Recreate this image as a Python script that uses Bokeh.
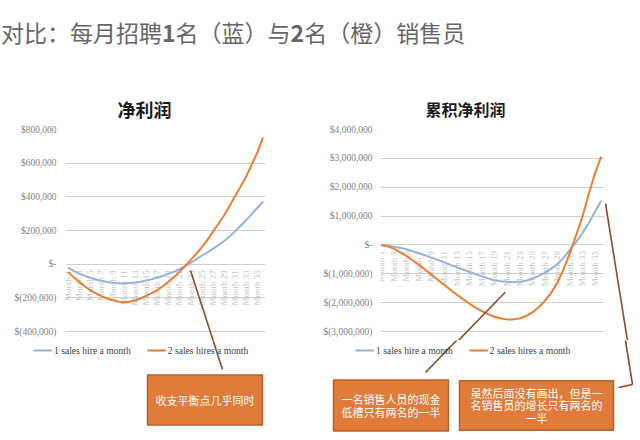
import math
from bokeh.plotting import figure
from bokeh.models import (Legend, LegendItem, FixedTicker, Label, Arrow, Div, Range1d)
from bokeh.layouts import column, row
from bokeh.core.properties import value
from bokeh.embed import file_html
from bokeh.resources import INLINE

# ---------------- data ----------------
months = list(range(1, 37))
month_labels = ["Month %d" % m for m in months]
label_months = months[::2]                       # Month 1, 3, ..., 35
label_texts = month_labels[::2]

series_names = ["1 sales hire a month", "2 sales hires a month"]

# 净利润 (net profit per month), USD
net_1 = [-22000, -40000, -56000, -69000, -81000, -91000, -99000, -106000, -111000, -113000,
         -114000, -112000, -109000, -104000, -97000, -90000, -81000, -70000, -58000, -45000,
         -30000, -12000, 8000, 29000, 50000, 70000, 91000, 113000, 137000, 165000,
         196000, 228000, 262000, 298000, 335000, 372000]
net_2 = [-46000, -77000, -105000, -131000, -155000, -174000, -190000, -204000, -214000, -222000,
         -226000, -223000, -216000, -204000, -188000, -172000, -155000, -132000, -105000, -77000,
         -46000, -12000, 24000, 61000, 99000, 143000, 192000, 240000, 289000, 345000,
         405000, 462000, 522000, 592000, 665000, 752000]

# 累积净利润 (cumulative net profit), USD
cum_1 = [0, -20000, -60000, -100000, -150000, -220000, -290000, -360000, -440000, -520000,
         -600000, -690000, -770000, -850000, -930000, -1010000, -1090000, -1160000, -1220000, -1260000,
         -1280000, -1290000, -1280000, -1240000, -1170000, -1080000, -970000, -830000, -670000, -450000,
         -170000, 100000, 400000, 750000, 1150000, 1530000]
cum_2 = [0, -50000, -130000, -250000, -380000, -530000, -690000, -860000, -1030000, -1210000,
         -1380000, -1550000, -1720000, -1880000, -2030000, -2170000, -2290000, -2400000, -2490000, -2550000,
         -2580000, -2580000, -2550000, -2470000, -2350000, -2170000, -1950000, -1670000, -1320000, -850000,
         -290000, 330000, 970000, 1750000, 2470000, 3060000]

net_ticks = [-400000, -200000, 0, 200000, 400000, 600000, 800000]
net_tick_labels = ["$(400,000)", "$(200,000)", "$-", "$200,000", "$400,000", "$600,000", "$800,000"]
cum_ticks = [-3000000, -2000000, -1000000, 0, 1000000, 2000000, 3000000, 4000000]
cum_tick_labels = ["$(3,000,000)", "$(2,000,000)", "$(1,000,000)", "$-", "$1,000,000",
                   "$2,000,000", "$3,000,000", "$4,000,000"]

main_title = '对比：每月招聘<b>1</b>名（蓝）与<b>2</b>名（橙）销售员'
chart_titles = ["净利润", "累积净利润"]
notes = ["收支平衡点几乎同时",
         "一名销售人员的现金\n低槽只有两名的一半",
         "虽然后面没有画出，但是一\n名销售员的增长只有两名的\n一半"]

# ---------------- style ----------------
BLUE = "#95B3D7"
ORANGE = "#ED7D31"
GRID = "#D0D0D0"
BOX_FILL = "#E07B39"
BOX_LINE = "#B6612C"
CONNECT = "#8A4A2C"
SERIF = "Liberation Serif"
CJK = "Noto Sans CJK SC"

AXIS_H = 202      # pixel height of the tick span (top tick .. bottom tick)
EXTRA_H = 9       # frame continues a little below the lowest tick
TOP_B = 67
BOTTOM_H = 98


def make_chart(title, title_x, title_size, title_standoff, y1, y2, ticks, tick_labels,
               xr, grid_x, border_left, frame_w, standoff):
    lo, hi = ticks[0], ticks[-1]
    y_lo = lo - EXTRA_H * (hi - lo) / AXIS_H
    p = figure(frame_width=frame_w, frame_height=AXIS_H + EXTRA_H, output_backend="svg",
               toolbar_location=None,
               x_range=Range1d(*xr), y_range=Range1d(y_lo, hi),
               x_axis_location=None, min_border_left=border_left,
               min_border_right=0, min_border_top=TOP_B, min_border_bottom=0)
    p.outline_line_color = None
    p.background_fill_color = "white"
    p.border_fill_color = "white"

    p.title.text = title
    p.title.align = "left"
    p.title.offset = title_x
    p.title.standoff = title_standoff
    p.title.text_font = CJK
    p.title.text_font_size = title_size
    p.title.text_font_style = "bold"
    p.title.text_color = "#1A1A1A"

    ax = p.yaxis[0]
    ax.ticker = FixedTicker(ticks=ticks)
    ax.major_label_overrides = {t: lab for t, lab in zip(ticks, tick_labels)}
    ax.axis_line_color = None
    ax.major_tick_line_color = None
    ax.minor_tick_line_color = None
    ax.major_tick_out = 0
    ax.major_tick_in = 0
    ax.major_label_standoff = standoff
    ax.major_label_text_font = SERIF
    ax.major_label_text_font_size = "9.5px"
    ax.major_label_text_color = "#7F7F7F"

    p.xgrid.visible = False
    p.ygrid.ticker = FixedTicker(ticks=ticks)
    p.ygrid.grid_line_color = GRID
    p.ygrid.grid_line_width = 1
    try:
        p.ygrid.cross_bounds = grid_x
    except Exception:
        p.ygrid.visible = False
        p.segment(x0=[grid_x[0]] * len(ticks), x1=[grid_x[1]] * len(ticks),
                  y0=ticks, y1=ticks, line_color=GRID, line_width=1)

    p.text(x=label_months, y=[0] * len(label_months), text=label_texts,
           angle=math.pi / 2, text_align="right", text_baseline="middle",
           y_offset=6, text_font=value(SERIF), text_font_size="9px",
           text_color="#C4C4C4")

    p.line(months, y1, line_color=BLUE, line_width=2)
    p.line(months, y2, line_color=ORANGE, line_width=2)
    return p


def note_box(p, text, cx, cy, pad):
    p.add_layout(Label(x=cx, y=cy, x_units="screen", y_units="screen", text=text,
                       text_align="center", text_baseline="middle",
                       text_font=CJK, text_font_size="11px", text_color="white",
                       text_line_height=0.8,
                       background_fill_color=BOX_FILL, border_line_color=BOX_LINE,
                       border_line_width=1.5, padding=pad))


def connector(p, x0, y0, x1, y1):
    p.add_layout(Arrow(end=None, x_start=x0, y_start=y0, x_end=x1, y_end=y1,
                       start_units="screen", end_units="screen",
                       line_color=CONNECT, line_width=1.6))


# left chart: frame 65..320 px; right chart: frame 378..639 px
p1 = make_chart(chart_titles[0], 52, "18px", 16, net_1, net_2, net_ticks, net_tick_labels,
                (0.55, 36.45 + 55 / 5.571), (0.55, 36.45), 65, 255, 9)
p2 = make_chart(chart_titles[1], 45, "16px", 17, cum_1, cum_2, cum_ticks, cum_tick_labels,
                (0.889, 36.52 + 37 / 6.286), (0.889, 36.52), 58, 261, 8)

# connector parts inside the chart frames (frame-relative, y up)
connector(p1, 125, 70, 157, -29)
connector(p2, 124.7, 48.3, 47, -32)
connector(p2, 225, 137, 254, -44)

# bottom strip: legends, notes and the lower parts of the connectors
p3 = figure(frame_width=640, frame_height=BOTTOM_H, output_backend="svg", toolbar_location=None,
            x_range=Range1d(0, 1), y_range=Range1d(0, 1),
            x_axis_location=None, y_axis_location=None,
            min_border_left=0, min_border_right=0, min_border_top=0, min_border_bottom=0)
p3.outline_line_color = None
p3.grid.visible = False

legend_style = dict(orientation="horizontal", glyph_width=19, glyph_height=12,
                    label_height=12, label_standoff=2, spacing=16, padding=0, margin=0,
                    border_line_color=None, background_fill_alpha=0,
                    label_text_font=SERIF, label_text_font_size="9.6px",
                    label_text_color="#404040", label_text_baseline="middle")
# legend swatches: the series themselves (outside this strip's visible range)
for lx, (a, b) in ((33, (net_1, net_2)), (355, (cum_1, cum_2))):
    s1 = p3.line(months, a, line_color=BLUE, line_width=2)
    s2 = p3.line(months, b, line_color=ORANGE, line_width=2)
    p3.add_layout(Legend(items=[LegendItem(label=series_names[0], renderers=[s1]),
                                LegendItem(label=series_names[1], renderers=[s2])],
                         location=(lx, 82), **legend_style))

connector(p3, 190, 168, 222, 69)
connector(p3, 502.7, 146.3, 425, 66)
connector(p3, 603, 235, 632, 54)
connector(p3, 632, 54, 618, 51)

note_box(p3, notes[0], 204.5, 38.5, (8, 17))
note_box(p3, notes[1], 390.5, 33, (8, 11))
note_box(p3, notes[2], 536, 33, (11, 4))

title_div = Div(text='<div style="margin:18px 0 0 1px; font-size:23px; line-height:28px; '
                     'color:#666666; font-family:\'Noto Sans CJK SC\'; white-space:nowrap;">'
                     + main_title + '</div>',
                width=640, height=62, margin=(0, 0, 0, 0))

layout = column(title_div, row(p1, p2), p3)

open("out.html", "w").write(file_html(layout, INLINE))
